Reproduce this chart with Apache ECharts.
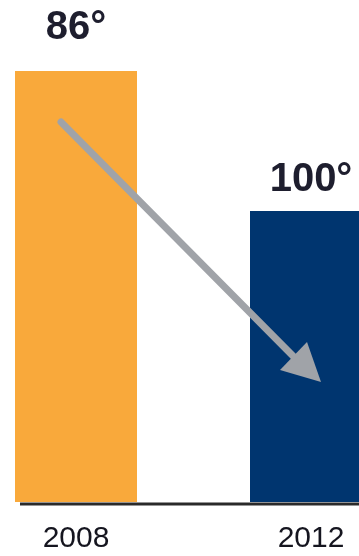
<!DOCTYPE html>
<html>
<head>
<meta charset="utf-8">
<style>
html,body{margin:0;padding:0;background:#fff;}
#chart{width:359px;height:556px;}
</style>
<script src="https://cdn.jsdelivr.net/npm/echarts@6/dist/echarts.min.js"></script>
</head>
<body>
<div id="chart"></div>
<script>
// Data
var years = ['2008', '2012'];
var barHeights = [100, 67.5];          // relative bar heights
var rankLabels = ['86°', '100°'];
var barColors = ['#F9A93B', '#00356F'];
var labelGaps = [23, 11];

var chart = echarts.init(document.getElementById('chart'), null, {renderer: 'canvas'});

var option = {
  animation: false,
  backgroundColor: '#ffffff',
  grid: {left: 76, right: 48, top: 71, bottom: 54, containLabel: false},
  xAxis: {
    type: 'category',
    data: years,
    boundaryGap: false,
    axisLine: {show: false},
    axisTick: {show: false},
    axisLabel: {
      margin: 22,
      fontFamily: 'Liberation Sans, Arial, sans-serif',
      fontSize: 30,
      color: '#15151f'
    }
  },
  yAxis: {
    type: 'value', min: 0, max: 100,
    show: false,
    splitLine: {show: false}
  },
  series: [{
    type: 'bar',
    barWidth: 122,
    clip: false,
    data: barHeights.map(function (v, i) {
      return {
        value: v,
        itemStyle: {color: barColors[i]},
        label: {
          show: true,
          position: 'top',
          distance: labelGaps[i],
          formatter: rankLabels[i],
          fontFamily: 'Liberation Sans, Arial, sans-serif',
          fontWeight: 'bold',
          fontSize: 40,
          color: '#1e1e2e'
        }
      };
    })
  }],
  graphic: [
    {type: 'line', z: 10, shape: {x1: 20, y1: 504, x2: 359, y2: 504},
     style: {stroke: '#2a2a2a', lineWidth: 3}},
    {type: 'line', z: 20, shape: {x1: 61, y1: 122, x2: 295, y2: 358},
     style: {stroke: '#a0a3a8', lineWidth: 7, lineCap: 'round'}},
    {type: 'polygon', z: 20, shape: {points: [[321, 382], [307, 342], [280, 370]]},
     style: {fill: '#a0a3a8'}}
  ]
};
chart.setOption(option);
</script>
</body>
</html>
